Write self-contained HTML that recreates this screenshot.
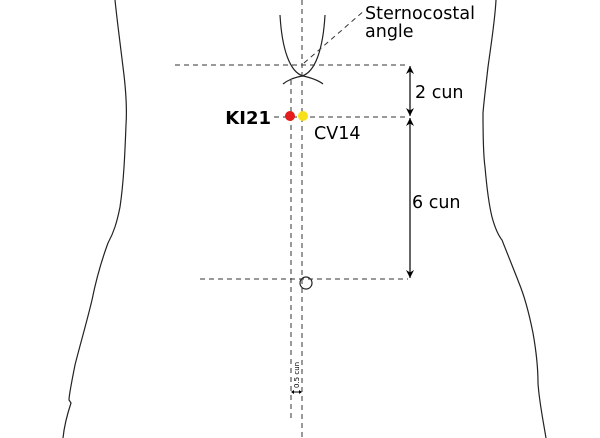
<!DOCTYPE html>
<html><head><style>body{margin:0;background:#fff}svg{display:block}text{font-family:"DejaVu Sans","Liberation Sans",sans-serif}</style></head><body>
<svg width="600" height="438" viewBox="0 0 600 438" xmlns="http://www.w3.org/2000/svg">
<defs><marker id="a" markerWidth="8" markerHeight="8" refX="8" refY="4" orient="auto-start-reverse" markerUnits="userSpaceOnUse"><path d="M0,0 L8,4 L0,8 L2.5,4 Z" fill="#000"/></marker></defs>
<g fill="none" stroke="#222" stroke-width="1.2">
<path d="M115,0 C117,20 121,50 123,67 C126,90 127,110 126,125 C125,150 124,180 120,207 C117,222 114,232 108,243 C101,262 96,280 92,300 C86,325 80,345 75,365 C71,385 69,395 69,400 L71,403 C67,415 64,428 63,438"/>
<path d="M496,0 C495,20 491,45 488,67 C486,85 484,100 483,113 C483,140 484,160 485,167 C487,190 489,205 492,217 C495,228 498,235 502,240 C509,258 514,270 519,283 C526,300 530,318 533,333 C536,350 538,370 538,383 C539,400 543,420 546,438"/>
<path d="M280,15 C282,50 290,72 303,76 C312,78 318,80 323,84"/>
<path d="M325,15 C323,50 315,72 302,76 C293,78 288,80 283,84"/>
<circle cx="306" cy="283" r="6"/>
</g>
<g stroke="#333" stroke-width="1" stroke-dasharray="5,4" fill="none">
<line x1="302" y1="0" x2="302" y2="438"/>
<line x1="291" y1="80" x2="291" y2="418"/>
<line x1="175" y1="65" x2="408" y2="65"/>
<line x1="274" y1="117" x2="408" y2="117"/>
<line x1="200" y1="279" x2="408" y2="279"/>
<line x1="304" y1="63" x2="365" y2="10"/>
</g>
<g stroke="#000" stroke-width="1.2">
<line x1="410" y1="66" x2="410" y2="116" marker-start="url(#a)" marker-end="url(#a)"/>
<line x1="410" y1="118" x2="410" y2="278" marker-start="url(#a)" marker-end="url(#a)"/>
<line x1="292" y1="392" x2="301" y2="392" stroke-width="1"/>
</g>
<path d="M291,392 l3,-2 v4 z M302,392 l-3,-2 v4 z" fill="#000"/>
<circle cx="290" cy="116" r="5" fill="#e31c1c"/>
<circle cx="303" cy="116" r="5" fill="#f7e11a"/>
<text x="365" y="19" font-size="17.5" fill="#000" textLength="110">Sternocostal</text>
<text x="365" y="37" font-size="17.5" fill="#000">angle</text>
<text x="415" y="98" font-size="17.5" fill="#000">2 cun</text>
<text x="412" y="208" font-size="17.5" fill="#000">6 cun</text>
<text x="271" y="124" font-size="18" font-weight="bold" text-anchor="end" fill="#000">KI21</text>
<text x="314" y="139" font-size="17.5" fill="#000">CV14</text>
<text x="0" y="0" font-size="7" fill="#000" transform="translate(299,388) rotate(-90)">0.5 cun</text>
</svg>
</body></html>
